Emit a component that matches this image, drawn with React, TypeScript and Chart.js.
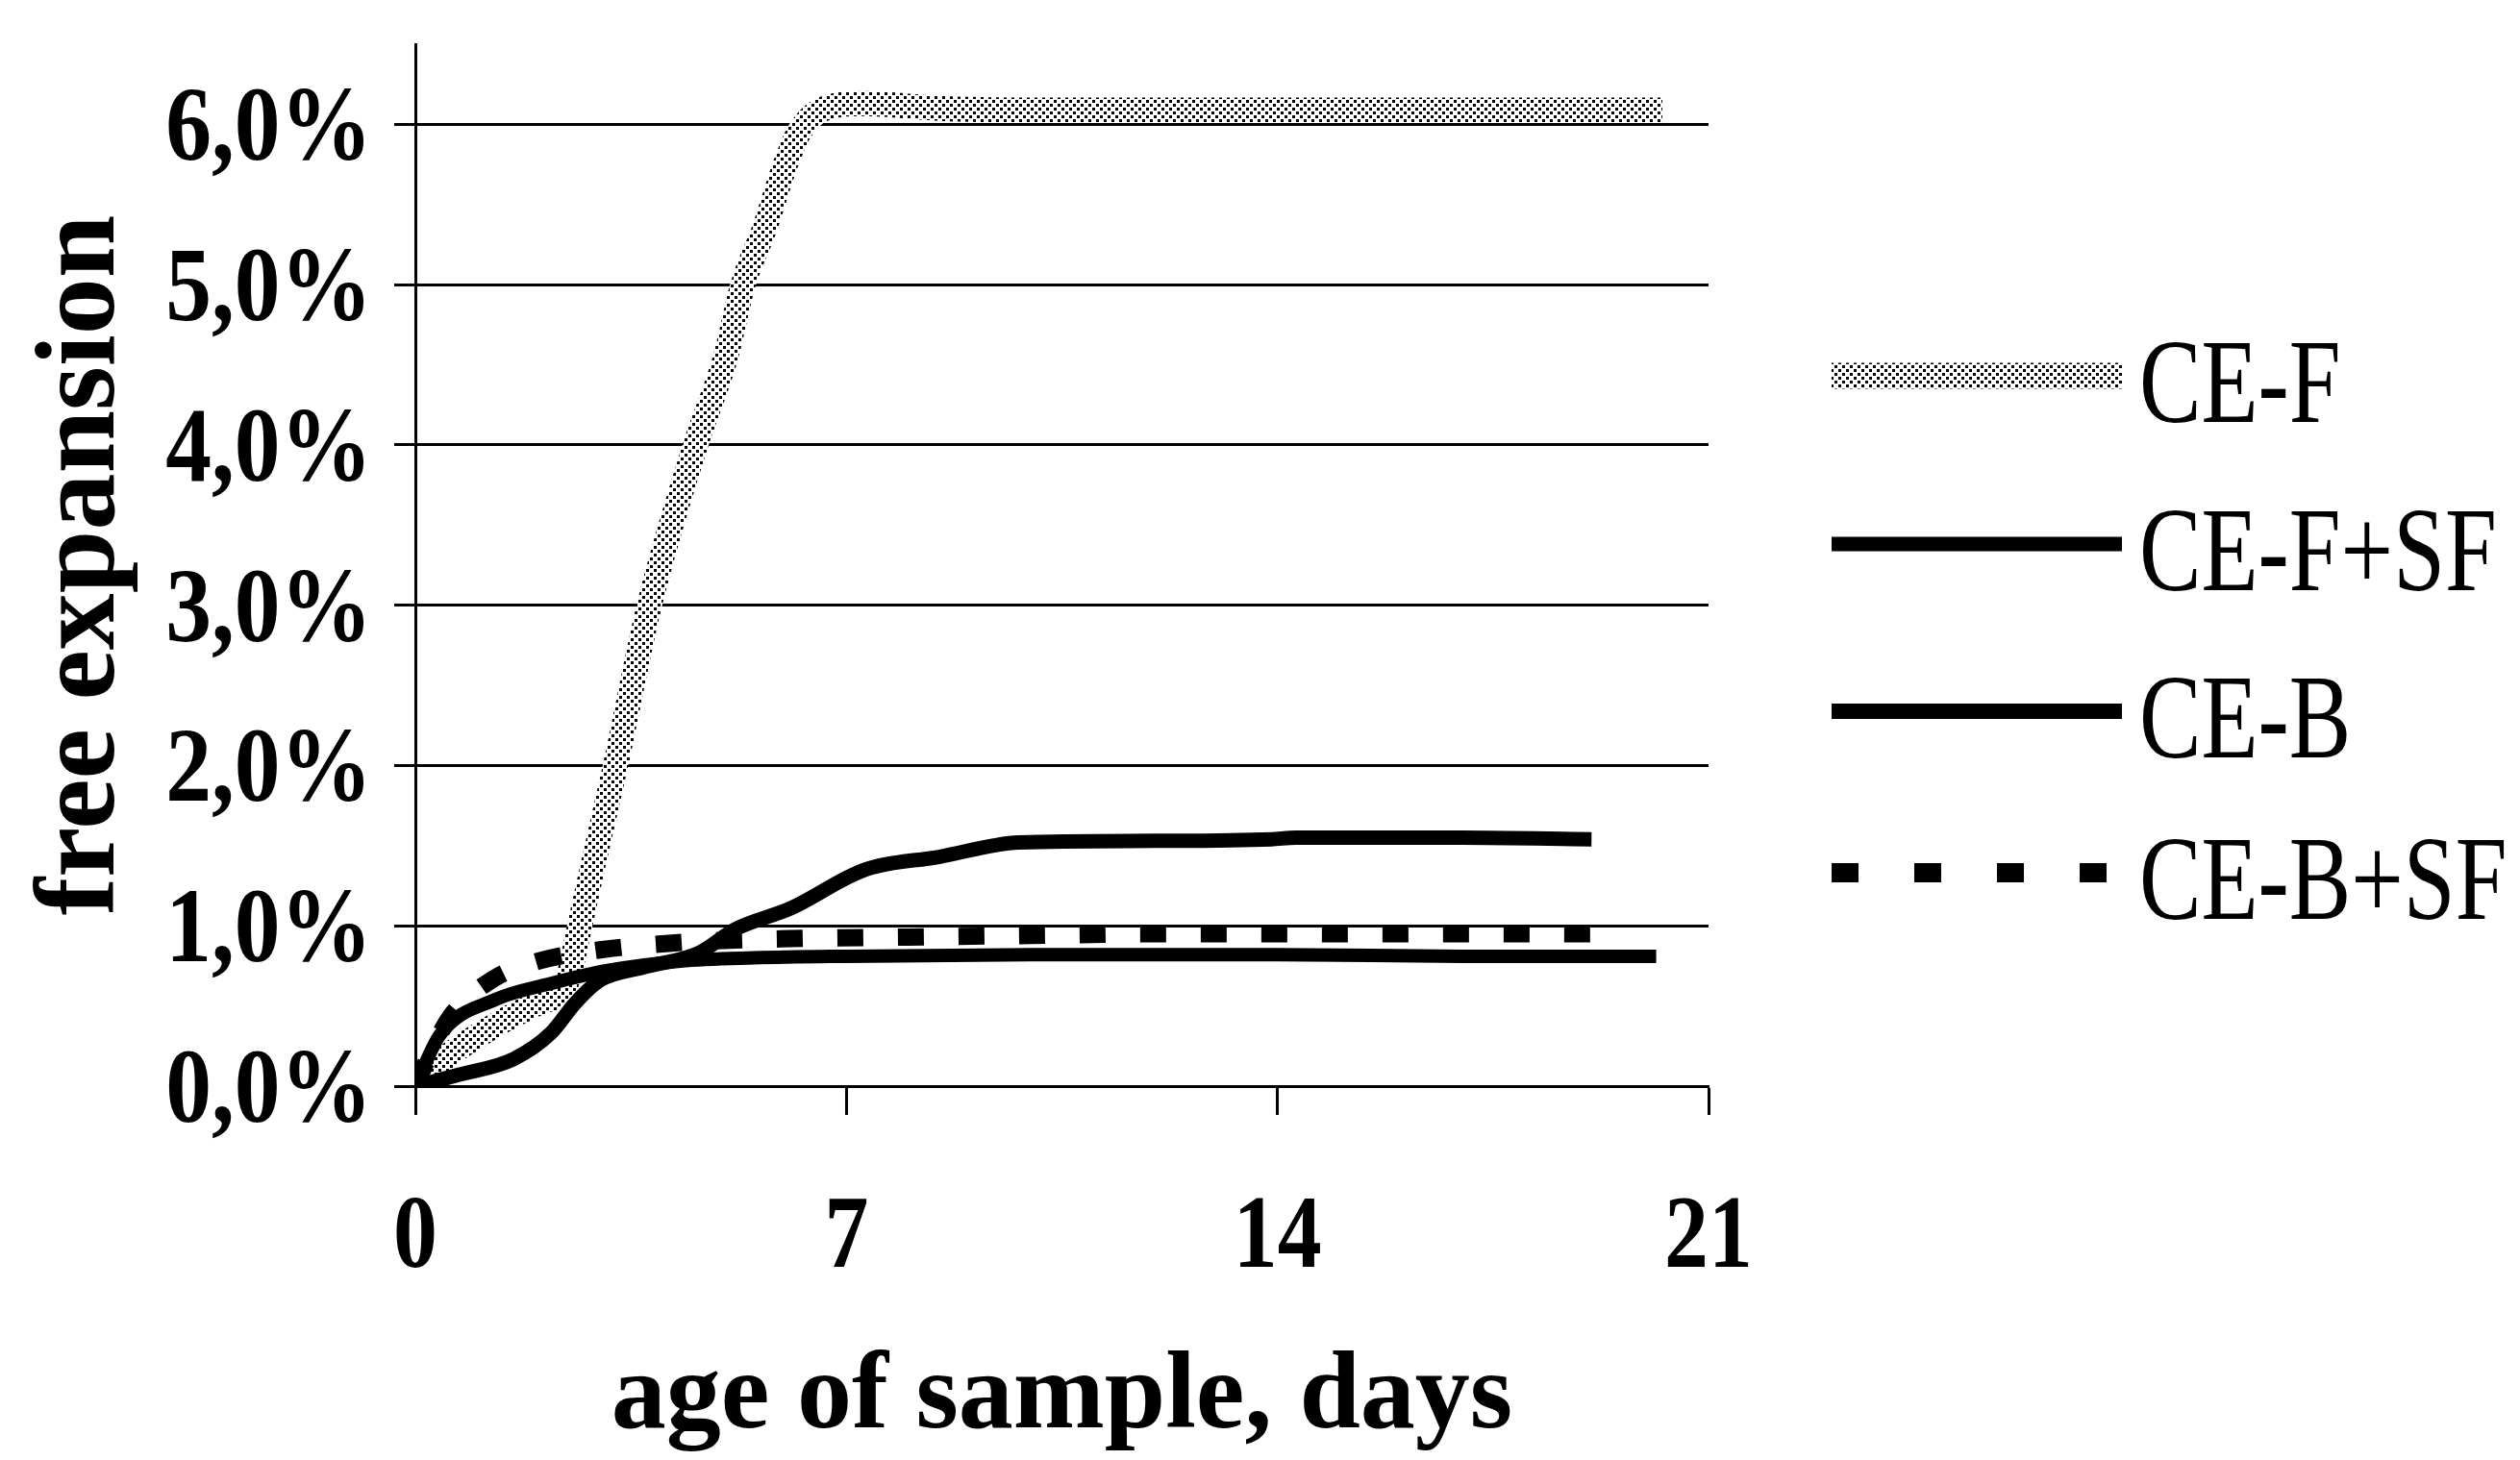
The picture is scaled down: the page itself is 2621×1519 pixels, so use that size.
import { useEffect, useRef } from "react";
import { Chart, registerables } from "chart.js";

Chart.register(...registerables);

// ---------- data ----------
const seriesLabels = ["CE-F", "CE-F+SF", "CE-B", "CE-B+SF"];

const daysCEF = [0, 0.5, 1.3, 2.0, 2.45, 2.67, 2.88, 3.25, 3.8, 4.55, 5.04, 5.32, 5.67, 6.0, 6.23, 6.65, 7.3, 8.5, 10, 12, 14, 16, 18, 20.25];
const valsCEF = [0, 0.18, 0.38, 0.52, 0.64, 1.0, 1.37, 2.0, 3.0, 4.0, 4.55, 5.0, 5.35, 5.74, 5.95, 6.1, 6.13, 6.1, 6.09, 6.09, 6.09, 6.09, 6.09, 6.09];

const daysCEFSF = [0, 0.4, 1.3, 2.2, 3.1, 4.3, 5.5, 7, 10, 14, 17, 20.15];
const valsCEFSF = [0, 0.32, 0.54, 0.64, 0.72, 0.78, 0.8, 0.81, 0.82, 0.82, 0.81, 0.81];

const daysCEB = [0, 0.7, 1.6, 2.2, 2.6, 3.0, 3.7, 4.6, 5.2, 6.1, 7.3, 8.5, 9.8, 12, 13.9, 14.3, 17, 19.1];
const valsCEB = [0, 0.07, 0.17, 0.33, 0.52, 0.66, 0.74, 0.83, 0.98, 1.11, 1.35, 1.43, 1.52, 1.53, 1.54, 1.55, 1.55, 1.54];

const daysCEBSF = [0, 0.3, 0.58, 1.27, 2.0, 3.0, 4.5, 6.1, 8, 10, 12, 14, 16, 19.4];
const valsCEBSF = [0, 0.25, 0.44, 0.67, 0.78, 0.85, 0.9, 0.92, 0.93, 0.94, 0.95, 0.95, 0.95, 0.95];

const xTickValues = [0, 7, 14, 21];
const xTickLabels = ["0", "7", "14", "21"];
const yTickValues = [0, 1, 2, 3, 4, 5, 6];
const yTickLabels = ["0,0%", "1,0%", "2,0%", "3,0%", "4,0%", "5,0%", "6,0%"];

const xTitle = "age of sample, days";
const yTitle = "free expansion";

const FONT = "'Liberation Serif', 'Times New Roman', serif";

function toPoints(xs: number[], ys: number[]) {
  return xs.map((x, i) => ({ x, y: ys[i] }));
}

function drawCondensed(
  ctx: CanvasRenderingContext2D,
  text: string,
  x: number,
  y: number,
  font: string,
  sx: number,
  align: CanvasTextAlign
) {
  ctx.save();
  ctx.font = font;
  ctx.fillStyle = "#000";
  ctx.textBaseline = "alphabetic";
  ctx.textAlign = align;
  ctx.translate(x, y);
  ctx.scale(sx, 1);
  ctx.fillText(text, 0, 0);
  ctx.restore();
}

const textPlugin = {
  id: "textAndLegend",
  afterDraw(chart: any) {
    const ctx: CanvasRenderingContext2D = chart.ctx;
    const xs = chart.scales.x;
    const ys = chart.scales.y;
    // x tick labels
    xTickValues.forEach((v, i) => {
      const px = xs.getPixelForValue(v);
      drawCondensed(ctx, xTickLabels[i], px, 1318, `bold 108px ${FONT}`, 0.85, "center");
    });
    // y tick labels
    yTickValues.forEach((v, i) => {
      const py = ys.getPixelForValue(v);
      drawCondensed(ctx, yTickLabels[i], 387, py + 37, `bold 111px ${FONT}`, 0.86, "right");
    });
    // legend
    const rowY = [391, 566, 740, 908];
    const x0 = 1905;
    const x1 = 2207;
    chart.data.datasets.forEach((ds: any, i: number) => {
      ctx.save();
      ctx.strokeStyle = ds.borderColor;
      ctx.lineWidth = ds.legendWidth;
      ctx.lineCap = "butt";
      ctx.setLineDash(ds.legendDash || []);
      ctx.beginPath();
      ctx.moveTo(x0, rowY[i]);
      ctx.lineTo(x1, rowY[i]);
      ctx.stroke();
      ctx.restore();
      drawCondensed(ctx, ds.label, 2225, rowY[i] + 48, `124px ${FONT}`, 0.78, "left");
    });
  },
};

export default function App() {
  const ref = useRef<HTMLCanvasElement>(null);

  useEffect(() => {
    const canvas = ref.current!;
    const ctx = canvas.getContext("2d")!;
    const tile = document.createElement("canvas");
    tile.width = 8;
    tile.height = 8;
    const t = tile.getContext("2d")!;
    t.fillStyle = "#fff";
    t.fillRect(0, 0, 8, 8);
    t.fillStyle = "#000";
    t.fillRect(0, 0, 3, 3);
    t.fillRect(4, 4, 3, 3);
    const stipple = ctx.createPattern(tile, "repeat")!;

    const common = {
      pointRadius: 0,
      pointHoverRadius: 0,
      fill: false,
      cubicInterpolationMode: "monotone" as const,
      borderCapStyle: "butt" as const,
      borderJoinStyle: "round" as const,
    };

    const chart = new Chart(canvas, {
      type: "line",
      data: {
        datasets: [
          {
            ...common,
            label: seriesLabels[0],
            data: toPoints(daysCEF, valsCEF),
            borderColor: stipple as any,
            borderWidth: 26,
            order: 1,
            legendWidth: 27,
          } as any,
          {
            ...common,
            label: seriesLabels[1],
            data: toPoints(daysCEFSF, valsCEFSF),
            borderColor: "#000",
            borderWidth: 14,
            order: 0,
            legendWidth: 15,
          } as any,
          {
            ...common,
            label: seriesLabels[2],
            data: toPoints(daysCEB, valsCEB),
            borderColor: "#000",
            borderWidth: 15,
            order: 0,
            legendWidth: 16,
          } as any,
          {
            ...common,
            label: seriesLabels[3],
            data: toPoints(daysCEBSF, valsCEBSF),
            borderColor: "#000",
            borderWidth: 18,
            borderDash: [27, 36],
            order: 0,
            legendWidth: 20,
            legendDash: [28, 58],
          } as any,
        ],
      },
      options: {
        responsive: false,
        animation: false,
        events: [],
        layout: { padding: { left: 0, top: 46, right: 844, bottom: 0 } },
        plugins: {
          legend: { display: false },
          tooltip: { enabled: false },
        },
        scales: {
          x: {
            type: "linear",
            min: 0,
            max: 21,
            bounds: "data",
            afterFit: (s: any) => {
              s.height = 389;
            },
            ticks: { display: false, stepSize: 7, includeBounds: false },
            grid: {
              drawOnChartArea: false,
              drawTicks: true,
              tickLength: 30,
              tickWidth: 3,
              tickColor: "#000",
              color: "#000",
            },
            border: { display: true, color: "#000", width: 3 },
            title: {
              display: true,
              text: xTitle,
              color: "#000",
              font: { family: FONT, size: 114, weight: "bold", lineHeight: 1 },
              padding: { top: 0, bottom: 6 },
            },
          },
          y: {
            type: "linear",
            min: 0,
            max: 6.5,
            bounds: "data",
            afterFit: (s: any) => {
              s.width = 432;
            },
            ticks: { display: false, stepSize: 1, includeBounds: false },
            grid: {
              drawOnChartArea: true,
              drawTicks: true,
              tickLength: 22,
              tickWidth: 3,
              tickColor: "#000",
              color: "#000",
              lineWidth: 3,
            },
            border: { display: true, color: "#000", width: 3 },
            title: {
              display: true,
              text: yTitle,
              color: "#000",
              font: { family: FONT, size: 118, weight: "bold", lineHeight: 1 },
              padding: { top: 29, bottom: 0 },
            },
          },
        },
      } as any,
      plugins: [textPlugin],
    });

    return () => chart.destroy();
  }, []);

  return (
    <div
      style={{
        position: "fixed",
        left: 0,
        top: 0,
        width: 2621,
        height: 1519,
        background: "#fff",
      }}
    >
      <canvas ref={ref} width={2621} height={1519} style={{ display: "block" }} />
    </div>
  );
}
